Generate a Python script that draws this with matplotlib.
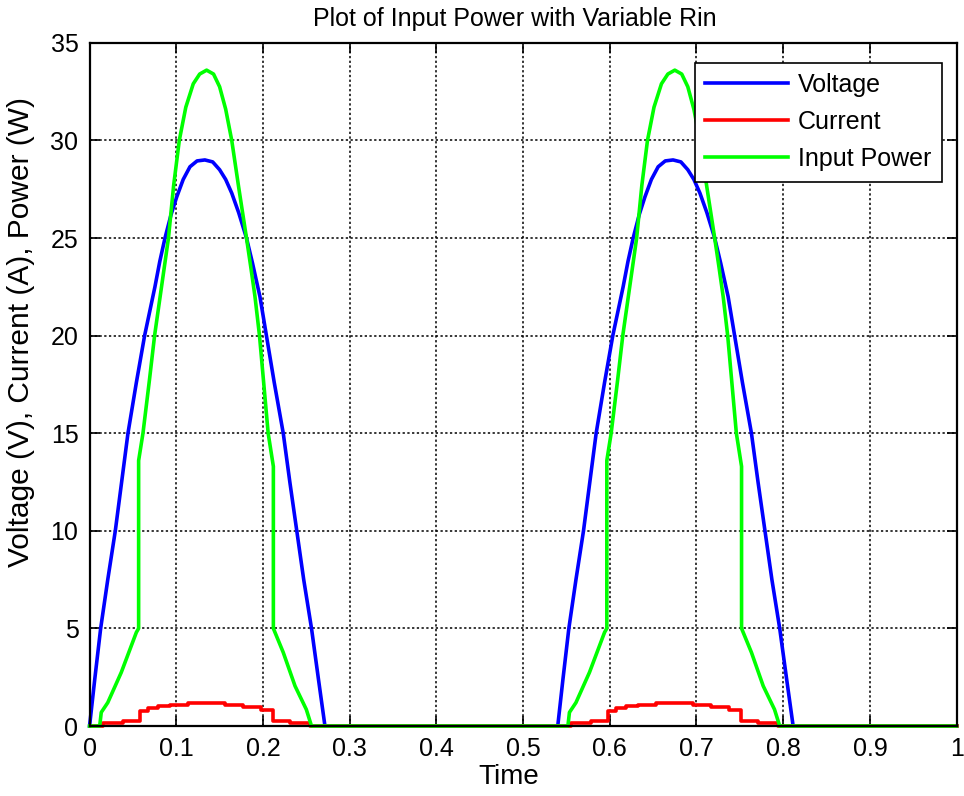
import matplotlib
matplotlib.use('Agg')
import matplotlib.pyplot as plt
import numpy as np

plt.rcParams['font.family'] = ['Liberation Sans', 'DejaVu Sans']

# one pulse (time from pulse start, value)
volt_t = [0.0, 0.006, 0.0128, 0.021, 0.0297, 0.037, 0.0443, 0.054, 0.0635, 0.0754,
          0.081, 0.087, 0.094, 0.1005, 0.108, 0.1158, 0.124, 0.133, 0.142, 0.150,
          0.157, 0.164, 0.172, 0.181, 0.188, 0.1965, 0.204, 0.213, 0.2234, 0.231,
          0.239, 0.247, 0.256, 0.264, 0.2715]
volt_v = [0.0, 2.4, 5.0, 7.5, 10.0, 12.5, 15.0, 17.6, 20.0, 22.5,
          23.8, 25.0, 26.2, 27.1, 28.0, 28.65, 28.95, 29.0, 28.9, 28.5,
          28.0, 27.3, 26.3, 25.0, 23.7, 22.0, 20.0, 17.6, 15.0, 12.5,
          10.0, 7.5, 5.0, 2.4, 0.0]

power_t = [0.0117, 0.0135, 0.021, 0.0366, 0.054, 0.0566, 0.0566, 0.0616, 0.069, 0.075,
           0.0814, 0.091, 0.097, 0.1035, 0.111, 0.1196, 0.127, 0.135, 0.143, 0.150,
           0.157, 0.164, 0.172, 0.181, 0.186, 0.1908, 0.196, 0.206, 0.212, 0.212,
           0.2234, 0.237, 0.250, 0.256]
power_p = [0.0, 0.7, 1.2, 2.75, 4.8, 5.0, 13.6, 15.0, 17.7, 20.0,
           22.0, 25.0, 27.7, 30.0, 31.7, 32.9, 33.4, 33.6, 33.4, 32.75,
           31.6, 30.0, 27.6, 25.0, 23.5, 22.0, 20.0, 15.0, 13.3, 5.0,
           3.77, 2.05, 0.85, 0.0]

# current is a staircase: level holds from each time to the next
curr_t = [0.0155, 0.0385, 0.0578, 0.0674, 0.0789, 0.0924, 0.1135, 0.1558, 0.177,
          0.198, 0.2115, 0.231, 0.254]
curr_i = [0.15, 0.27, 0.78, 0.90, 1.01, 1.10, 1.17, 1.10, 0.97,
          0.80, 0.27, 0.15, 0.0]

pulse_starts = [0.0, 0.54]
t_end = 1.0

vt = np.concatenate([np.array(volt_t) + s for s in pulse_starts] + [[t_end]])
vv = np.concatenate([volt_v for s in pulse_starts] + [[0.0]])
pt = np.concatenate([[0.0]] + [np.array(power_t) + s for s in pulse_starts] + [[t_end]])
pp = np.concatenate([[0.0]] + [power_p for s in pulse_starts] + [[0.0]])
ct = np.concatenate([[0.0]] + [np.array(curr_t) + s for s in pulse_starts] + [[t_end]])
ci = np.concatenate([[0.0]] + [curr_i for s in pulse_starts] + [[0.0]])

fig = plt.figure(figsize=(9.64, 7.96), dpi=100)
ax = fig.add_axes([0.0929, 0.0879, 0.8994, 0.8583])

lw = 2.6
ax.plot(vt, vv, color='#0000ff', lw=lw, label='Voltage', clip_on=False, zorder=3)
ax.plot(ct, ci, color='#ff0000', lw=lw, label='Current', drawstyle='steps-post',
        clip_on=False, zorder=3)
ax.plot(pt, pp, color='#00ff00', lw=lw, label='Input Power', clip_on=False, zorder=3)

ax.set_xlim(0, 1)
ax.set_ylim(0, 35)
ax.set_xticks(np.arange(0, 1.01, 0.1))
ax.set_xticklabels(['0', '0.1', '0.2', '0.3', '0.4', '0.5', '0.6', '0.7', '0.8', '0.9', '1'])
ax.set_yticks(np.arange(0, 36, 5))
ax.tick_params(direction='in', length=7, width=1.2, top=True, right=True,
               labelsize=18, pad=8, colors='black')
for sp in ax.spines.values():
    sp.set_linewidth(1.6)
    sp.set_color('black')
    sp.set_zorder(4)

ax.grid(True, color='black', linestyle=(0, (1.5, 1.6)), linewidth=1.1)
ax.set_axisbelow(True)

ax.set_title('Plot of Input Power with Variable Rin', fontsize=18, pad=12, x=0.491)
ax.set_xlabel('Time', fontsize=20)
ax.set_ylabel('Voltage (V), Current (A), Power (W)', fontsize=21.5)
ax.xaxis.set_label_coords(0.483, -0.056)
ax.yaxis.set_label_coords(-0.063, 0.577)

leg = ax.legend(loc='upper right', bbox_to_anchor=(0.983, 0.971), borderaxespad=0,
                fontsize=18, fancybox=False, framealpha=1, edgecolor='black',
                handlelength=3.3, handletextpad=0.4, labelspacing=0.52, borderpad=0.42)
leg.get_frame().set_linewidth(1.2)
leg.set_zorder(5)

fig.savefig('out.png', dpi=100)
